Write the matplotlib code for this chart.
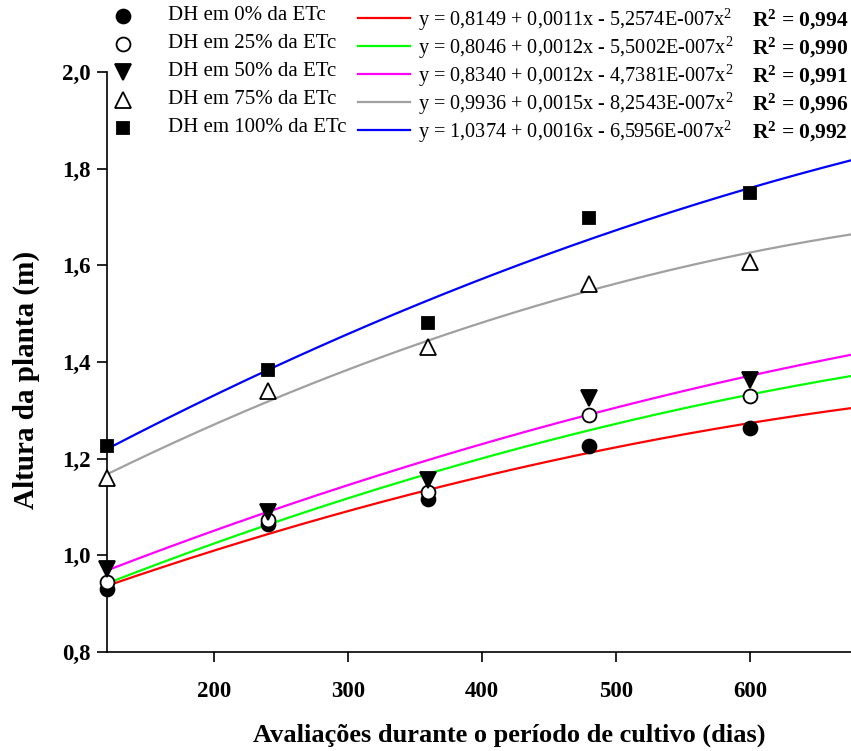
import numpy as np
import matplotlib
matplotlib.use('Agg')
import matplotlib.pyplot as plt
from matplotlib.lines import Line2D

matplotlib.rcParams.update({'font.family': 'Liberation Serif',
                            'mathtext.fontset': 'custom',
                            'mathtext.rm': 'Liberation Serif',
                            'mathtext.it': 'Liberation Serif',
                            'mathtext.bf': 'Liberation Serif:bold'})

# Avaliações (dias)
dias = [120, 240, 360, 480, 600]

# Altura da planta (m) por tratamento
dh0 = [0.930, 1.065, 1.116, 1.226, 1.263]
dh25 = [0.945, 1.074, 1.132, 1.291, 1.330]
dh50 = [0.972, 1.090, 1.155, 1.325, 1.363]
dh75 = [1.160, 1.340, 1.430, 1.561, 1.607]
dh100 = [1.226, 1.384, 1.481, 1.697, 1.749]

labels = ['DH em 0% da ETc', 'DH em 25% da ETc', 'DH em 50% da ETc',
          'DH em 75% da ETc', 'DH em 100% da ETc']
# coeficientes das regressões y = a + b*x + c*x^2
# (b lido do traçado das curvas, dentro do arredondamento da equação impressa)
coef_a = [0.8149, 0.8046, 0.8340, 0.9936, 1.0374]
coef_b = [0.00108, 0.00121, 0.00118, 0.00155, 0.00160]
coef_c = [-5.2574e-7, -5.5002e-7, -4.7381e-7, -8.2543e-7, -6.5956e-7]
eq_text = ['y = 0,8149 + 0,0011x - 5,2574E-007x$^2$',
           'y = 0,8046 + 0,0012x - 5,5002E-007x$^2$',
           'y = 0,8340 + 0,0012x - 4,7381E-007x$^2$',
           'y = 0,9936 + 0,0015x - 8,2543E-007x$^2$',
           'y = 1,0374 + 0,0016x - 6,5956E-007x$^2$']
r2 = ['0,994', '0,990', '0,991', '0,996', '0,992']

series = [dh0, dh25, dh50, dh75, dh100]
colors = ['#ff0000', '#00ff00', '#ff00ff', '#a0a0a0', '#0000ff']
markers = [dict(marker='o', mfc='k', ms=10),
           dict(marker='o', mfc='white', ms=10),
           dict(marker='v', mfc='k', ms=11),
           dict(marker='^', mfc='white', ms=11),
           dict(marker='s', mfc='k', ms=9)]

fig = plt.figure(figsize=(8.51, 7.51), dpi=100)
ax = fig.add_axes([107/851, 1-652/751, 744/851, 580/751])

# curvas de regressão quadrática
xx = np.linspace(120, 680, 300)
for a, b, c, col in zip(coef_a, coef_b, coef_c, colors):
    ax.plot(xx, a + b*xx + c*xx**2, color=col, lw=1.6, zorder=2)

for ys, m in zip(series, markers):
    ax.plot(dias, ys, ls='none', mec='k', mew=1.3, zorder=3, clip_on=False, **m)

ax.set_xlim(120, 675.5)
ax.set_ylim(0.8, 2.0)
ax.set_xticks([200, 300, 400, 500, 600])
ax.set_yticks([0.8, 1.0, 1.2, 1.4, 1.6, 1.8, 2.0])
ax.set_yticklabels(['0,8', '1,0', '1,2', '1,4', '1,6', '1,8', '2,0'])
for s in ['top', 'right']:
    ax.spines[s].set_visible(False)
for s in ['left', 'bottom']:
    ax.spines[s].set_linewidth(1.2)
ax.tick_params(axis='x', direction='out', length=7, width=1.2, pad=14, labelsize=16.5)
ax.tick_params(axis='y', direction='out', length=7, width=1.2, pad=5, labelsize=16.5)
for t in ax.get_xticklabels() + ax.get_yticklabels():
    t.set_fontweight('bold')

ax.set_xlabel('Avaliações durante o período de cultivo (dias)', fontsize=19,
              fontweight='bold')
ax.xaxis.set_label_coords(402/744, -(735-652)/580)
ax.xaxis.label.set_va('center')
ax.set_ylabel('Altura da planta (m)', fontsize=21, fontweight='bold')
ax.yaxis.set_label_coords(-(107-26)/744, (652-380)/580)
ax.yaxis.label.set_va('center')

# legenda
rows = [16, 44, 72, 100, 128]
for i, yp in enumerate(rows):
    yf = 1 - yp/751
    m = markers[i]
    fig.add_artist(Line2D([123/851], [yf], ls='none', mec='k', mew=1.3, **m))
    fig.text(168/851, yf, labels[i], fontsize=15, va='center', ha='left')
    fig.add_artist(Line2D([358/851, 410/851], [yf - 2/751, yf - 2/751],
                          color=colors[i], lw=1.6))
    fig.text(418/851, yf - 4/751, eq_text[i], fontsize=14.6, va='center', ha='left')
    fig.text(752/851, yf - 4/751, r'$\mathbf{R^2}$ = ' + r2[i], fontsize=15.5,
             fontweight='bold', va='center', ha='left')

fig.savefig('out.png', dpi=100)
